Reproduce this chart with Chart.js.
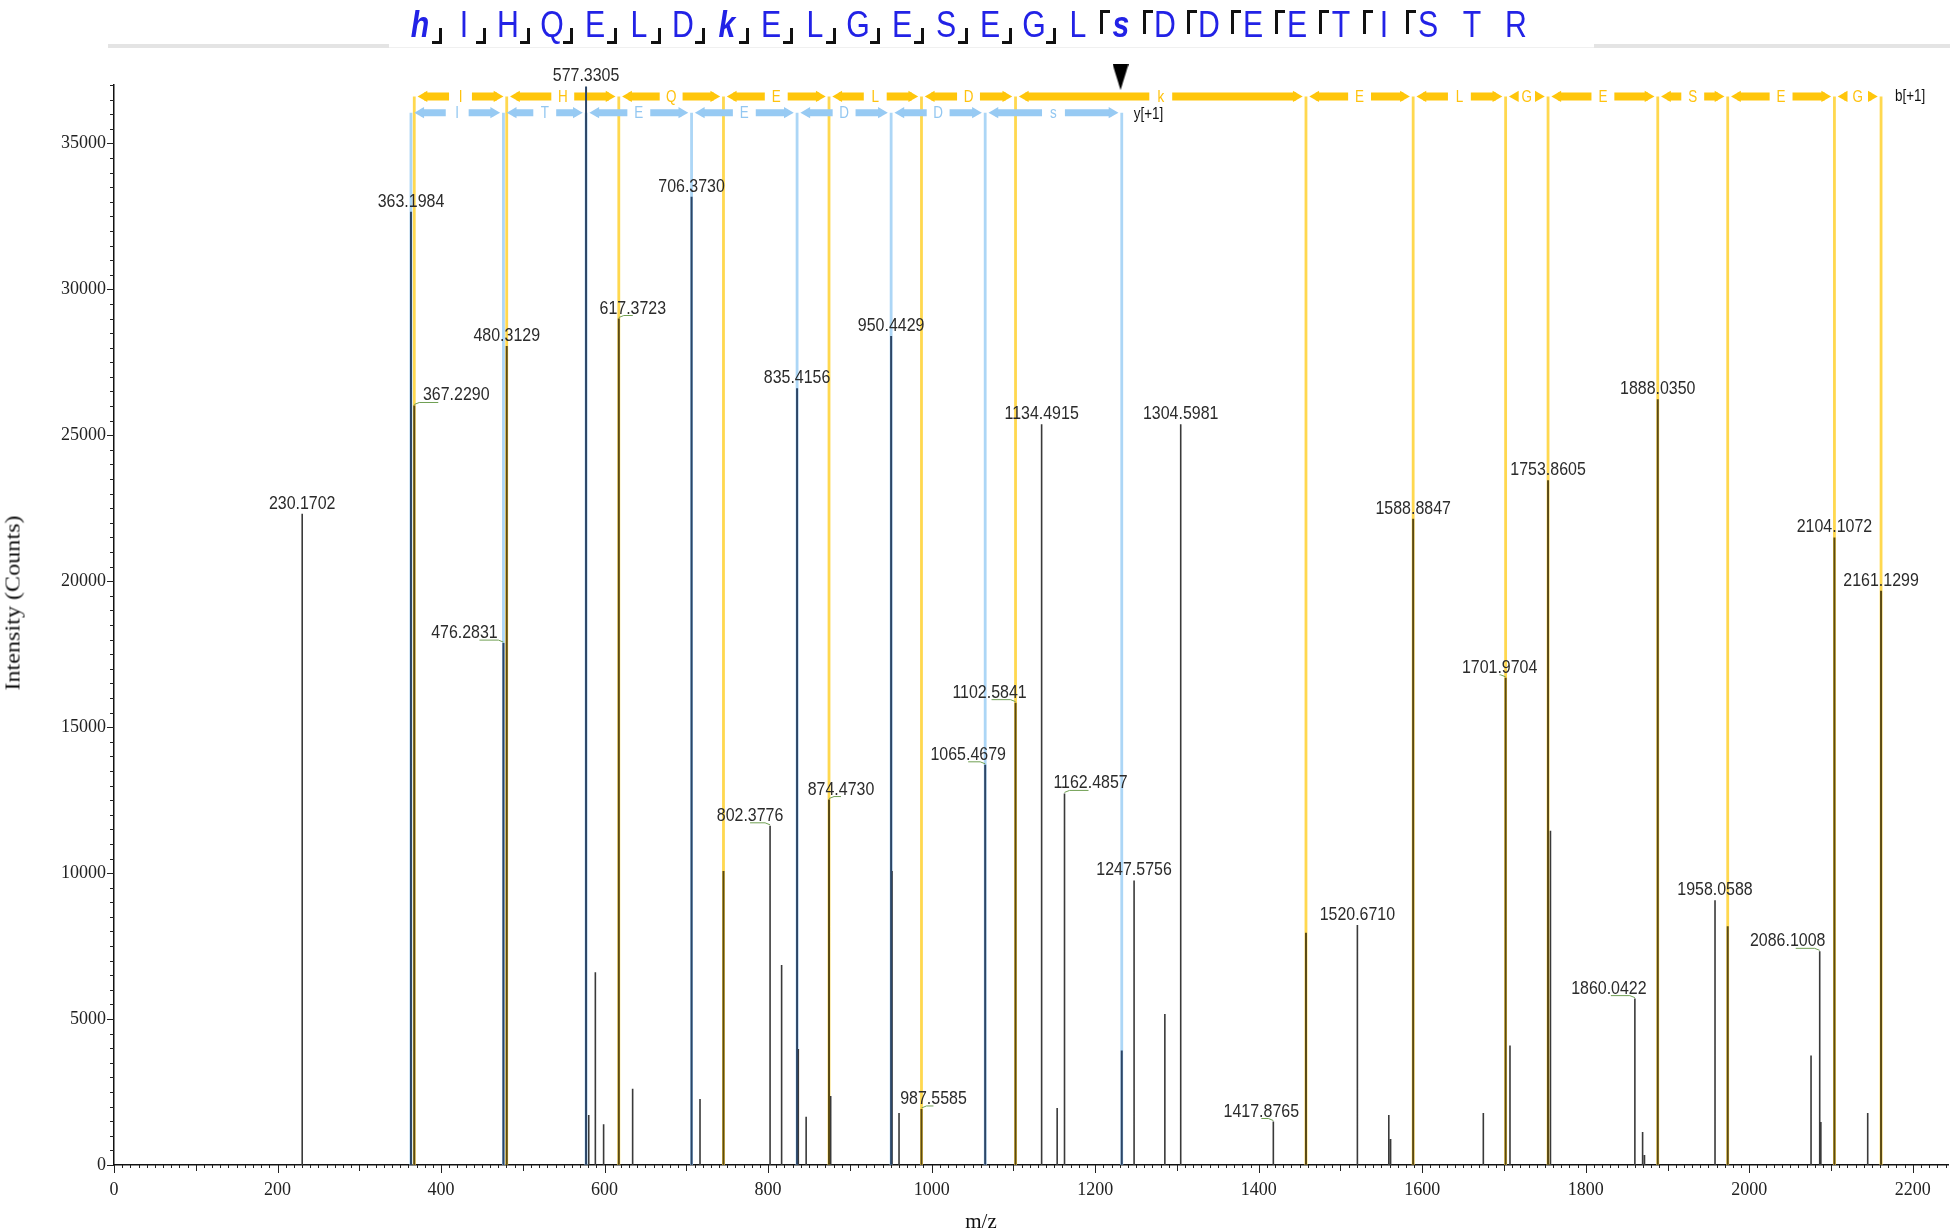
<!DOCTYPE html>
<html>
<head>
<meta charset="utf-8">
<script src="https://cdn.jsdelivr.net/npm/chart.js@4.4.1/dist/chart.umd.min.js"></script>
<style>
  html, body { margin: 0; padding: 0; background: #fff; }
  #wrap { position: relative; width: 1950px; height: 1231px; overflow: hidden; }
  #spectrum { position: absolute; left: 0; top: 0; }
  .seq { position: absolute; top: 7px; width: 40px; text-align: center; color: #2222e6;
         font: 36px/36px 'Liberation Sans', Arial, sans-serif; transform: scaleX(0.84); }
  .seq.mod { font-weight: bold; font-style: italic; }
  .brk-b { position: absolute; top: 28px; width: 10px; height: 16px; box-sizing: border-box;
           border-right: 3px solid #111; border-bottom: 3px solid #111; }
  .brk-y { position: absolute; top: 10px; width: 10px; height: 24px; box-sizing: border-box;
           border-left: 3px solid #111; border-top: 3px solid #111; }
  .rule { position: absolute; top: 44px; height: 4px; background: #e4e4e4; }
  .axis-title { position: absolute; font: 21px 'Liberation Serif', 'Times New Roman', serif; color: #111; white-space: nowrap; }
</style>
</head>
<body>
<div id="wrap">
  <canvas id="spectrum" width="1950" height="1231"></canvas>
  <div id="sequence"></div>
  <div class="rule" style="left:108px;width:281px"></div>
  <div class="rule" style="left:1594px;width:356px"></div>
  <div class="rule" style="left:389px;width:1205px;height:1px;top:47px;background:#f0f0f0"></div>
  <div class="axis-title" id="yTitle">Intensity (Counts)</div>
  <div class="axis-title" id="xTitle">m/z</div>
</div>
<script>
// Peaks (m/z, intensity in counts)
const mzValues = [
  230.1702, 363.1984, 367.2290, 476.2831, 480.3129, 577.3305, 580.6, 588.7, 598.8, 617.3723,
  634.3, 706.3730, 716.7, 745.4, 802.3776, 816.5, 835.4156, 836.9, 846.5, 874.4730,
  876.5, 950.4429, 951.5, 960.1, 987.5585, 1065.4679, 1102.5841, 1134.4915, 1153.5, 1162.4857,
  1232.5, 1247.5756, 1285.2, 1304.5981, 1417.8765, 1457.8, 1520.6710, 1559.1, 1561.3, 1588.8847,
  1674.7, 1701.9704, 1707.3, 1753.8605, 1756.8, 1860.0422, 1869.5, 1871.8, 1888.0350, 1958.0588,
  1973.6, 2075.5, 2086.1008, 2087.5, 2104.1072, 2144.8, 2161.1299
];
const intensities = [
  22310, 32660, 26020, 17880, 28060, 36950, 1710, 6600, 1400, 29000,
  2610, 33170, 2260, 10070, 11620, 6850, 26610, 3970, 1650, 12520,
  2360, 28400, 10070, 1780, 1920, 13710, 15840, 25380, 1950, 12730,
  3920, 9750, 5170, 25380, 1490, 7960, 8220, 1710, 890, 22140,
  1780, 16690, 4090, 23460, 11450, 5700, 1130, 340, 26230, 9070,
  8180, 3750, 7320, 1470, 21500, 1780, 19670
];
// Peaks carrying an m/z label
const labeledPeaks = [
  230.1702, 363.1984, 367.2290, 476.2831, 480.3129, 577.3305, 617.3723, 706.3730, 802.3776, 835.4156,
  874.4730, 950.4429, 987.5585, 1065.4679, 1102.5841, 1134.4915, 1162.4857, 1247.5756, 1304.5981, 1417.8765,
  1520.6710, 1588.8847, 1701.9704, 1753.8605, 1860.0422, 1888.0350, 1958.0588, 2086.1008, 2104.1072, 2161.1299
];
// Fragment ladders
const bIons = [367.2290, 480.3129, 617.3723, 745.4, 874.4730, 987.5585, 1102.5841, 1457.8, 1588.8847,
               1701.9704, 1753.8605, 1888.0350, 1973.6, 2104.1072, 2161.1299];
const bResidues = ['I', 'H', 'Q', 'E', 'L', 'D', 'k', 'E', 'L', 'G', 'E', 'S', 'E', 'G'];
const yIons = [363.1984, 476.2831, 577.3305, 706.3730, 835.4156, 950.4429, 1065.4679, 1232.5];
const yResidues = ['I', 'T', 'E', 'E', 'D', 'D', 's'];
const siteMarkerMz = 1231;

// Peptide sequence shown above the spectrum
const sequence = ['h','I','H','Q','E','L','D','k','E','L','G','E','S','E','G','L','s','D','D','E','E','T','I','S','T','R'];
const modifiedResidues = [0, 7, 16];
const bBreaks = [0, 1, 2, 3, 4, 5, 6, 7, 8, 9, 10, 11, 12, 13, 14];
const yBreaks = [16, 17, 18, 19, 20, 21, 22, 23];

const xTickLabels = [0, 200, 400, 600, 800, 1000, 1200, 1400, 1600, 1800, 2000, 2200];
const yTickLabels = [0, 5000, 10000, 15000, 20000, 25000, 30000, 35000];

// Layout / style settings
const X_MAX = 2243, Y_MAX = 37000;
const B_BAND = 36610, Y_BAND = 36050, MARKER_LEVEL = 37270;
const labelOffsetPx = {
  '367.2290': 42, '476.2831': -39, '617.3723': 14, '802.3776': -20, '874.4730': 12,
  '987.5585': 12, '1065.4679': -17, '1102.5841': -26, '1162.4857': 26, '1417.8765': -12,
  '1701.9704': -6, '1860.0422': -26, '2086.1008': -32
};
const SANS = "'Liberation Sans', Arial, sans-serif";
const SERIF = "'Liberation Serif', 'Times New Roman', serif";
const NARROW_X = 0.84;

// Build the sequence header
const seqBox = document.getElementById('sequence');
const seqCenter = i => 420 + i * 43.84;
sequence.forEach((aa, i) => {
  const d = document.createElement('div');
  d.className = 'seq' + (modifiedResidues.includes(i) ? ' mod' : '');
  d.style.left = (seqCenter(i) - 20) + 'px';
  d.textContent = aa;
  seqBox.appendChild(d);
});
bBreaks.forEach(i => {
  const d = document.createElement('div');
  d.className = 'brk-b';
  d.style.left = (seqCenter(i) + 21.9 - 10) + 'px';
  seqBox.appendChild(d);
});
yBreaks.forEach(i => {
  const d = document.createElement('div');
  d.className = 'brk-y';
  d.style.left = (seqCenter(i) - 21.9) + 'px';
  seqBox.appendChild(d);
});

const yTitle = document.getElementById('yTitle');
yTitle.style.left = '13px';
yTitle.style.top = '603px';
yTitle.style.transform = 'translate(-50%, -50%) rotate(-90deg) scaleX(1.15)';
const xTitle = document.getElementById('xTitle');
xTitle.style.left = '981px';
xTitle.style.top = '1221px';
xTitle.style.transform = 'translate(-50%, -50%)';

// Stick datasets
const near = (list, v) => list.some(m => Math.abs(m - v) < 0.01);
function sticks(filter) {
  const pts = [];
  mzValues.forEach((mz, i) => {
    if (!filter(mz)) return;
    pts.push({x: mz, y: 0}, {x: mz, y: intensities[i]}, {x: mz, y: null});
  });
  return pts;
}
function ionLines(ions, level) {
  const pts = [];
  ions.forEach(mz => pts.push({x: mz, y: level}, {x: mz, y: 0}, {x: mz, y: null}));
  return pts;
}
function band(ions, level) {
  const pts = [];
  for (let i = 0; i < ions.length - 1; i++) {
    const x0 = ions[i], x1 = ions[i + 1], mid = (x0 + x1) / 2;
    pts.push({x: x0 + 12, y: level, end: 'L'}, {x: mid - 14, y: level}, {x: mid, y: null},
             {x: mid + 14, y: level}, {x: x1 - 12, y: level, end: 'R'}, {x: x1, y: null});
  }
  return pts;
}

const markerImg = document.createElement('canvas');
markerImg.width = 16; markerImg.height = 26;
const mctx = markerImg.getContext('2d');
mctx.beginPath(); mctx.moveTo(0, 0); mctx.lineTo(16, 0); mctx.lineTo(8, 26); mctx.closePath();
mctx.fillStyle = '#000'; mctx.fill();

const lineBase = {showLine: true, spanGaps: false, pointRadius: 0, borderCapStyle: 'butt', clip: false};
const arrowPoints = {
  pointStyle: 'triangle',
  pointRadius: c => (c.raw && c.raw.end ? 6.5 : 0),
  pointRotation: c => (c.raw && c.raw.end === 'L' ? -90 : 90),
  pointBorderWidth: 0
};

function narrowText(ctx, text, x, y) {
  ctx.save();
  ctx.translate(x, y);
  ctx.scale(NARROW_X, 1);
  ctx.fillText(text, 0, 0);
  ctx.restore();
}

// Labels, band letters and minor ticks
const annotationPlugin = {
  id: 'annotations',
  afterDatasetsDraw(chart) {
    const {ctx, scales: {x, y}} = chart;
    ctx.save();
    ctx.font = '19px ' + SANS;
    ctx.textAlign = 'center';
    ctx.textBaseline = 'alphabetic';
    labeledPeaks.forEach(mz => {
      const i = mzValues.indexOf(mz);
      const px = x.getPixelForValue(mz), py = y.getPixelForValue(intensities[i]);
      const key = mz.toFixed(4);
      const dx = labelOffsetPx[key] || 0;
      ctx.fillStyle = '#2b2b2b';
      narrowText(ctx, key, px + dx, py - 5);
      if (dx) {
        ctx.strokeStyle = '#6f9f52';
        ctx.lineWidth = 1;
        ctx.beginPath();
        ctx.moveTo(px, py - 1);
        ctx.lineTo(px + Math.sign(dx) * 5, py - 3);
        ctx.lineTo(px + Math.sign(dx) * Math.min(Math.abs(dx), 24), py - 3);
        ctx.stroke();
      }
    });
    ctx.font = '16px ' + SANS;
    ctx.textBaseline = 'middle';
    const letters = (ions, res, level, color) => {
      ctx.fillStyle = color;
      res.forEach((r, i) => {
        const mid = (ions[i] + ions[i + 1]) / 2;
        narrowText(ctx, r, x.getPixelForValue(mid), y.getPixelForValue(level) + 1);
      });
    };
    letters(bIons, bResidues, B_BAND, '#ffc20e');
    letters(yIons, yResidues, Y_BAND, '#93c7f1');
    ctx.fillStyle = '#111';
    ctx.textAlign = 'left';
    narrowText(ctx, 'b[+1]', x.getPixelForValue(bIons[bIons.length - 1]) + 14, y.getPixelForValue(B_BAND));
    narrowText(ctx, 'y[+1]', x.getPixelForValue(yIons[yIons.length - 1]) + 12, y.getPixelForValue(Y_BAND) + 2);
    ctx.restore();
  },
  afterDraw(chart) {
    const {ctx, scales: {x, y}} = chart;
    ctx.save();
    ctx.strokeStyle = '#222';
    ctx.lineWidth = 1;
    const by = y.getPixelForValue(0);
    for (let v = 0; v <= X_MAX; v += 10) {
      const px = Math.round(x.getPixelForValue(v)) + 0.5;
      const len = v % 200 === 0 ? 8 : (v % 100 === 0 ? 6 : 3);
      ctx.beginPath(); ctx.moveTo(px, by); ctx.lineTo(px, by + len); ctx.stroke();
    }
    const lx = x.getPixelForValue(0);
    for (let v = 0; v <= Y_MAX; v += 500) {
      const py = Math.round(y.getPixelForValue(v)) + 0.5;
      const len = v % 5000 === 0 ? 7 : 4;
      ctx.beginPath(); ctx.moveTo(lx, py); ctx.lineTo(lx - len, py); ctx.stroke();
    }
    ctx.restore();
  }
};

new Chart(document.getElementById('spectrum'), {
  type: 'scatter',
  data: {
    datasets: [
      Object.assign({}, lineBase, {data: sticks(mz => !near(bIons, mz) && !near(yIons, mz)), borderColor: '#3a3a3a', borderWidth: 1.6, order: 1}),
      Object.assign({}, lineBase, {data: sticks(mz => near(bIons, mz)), borderColor: '#5b4a14', borderWidth: 2, order: 0}),
      Object.assign({}, lineBase, {data: sticks(mz => near(yIons, mz)), borderColor: '#2c4566', borderWidth: 2, order: 0}),
      Object.assign({}, lineBase, {data: ionLines(bIons, B_BAND), borderColor: '#ffd84f', borderWidth: 2.8, order: 5}),
      Object.assign({}, lineBase, {data: ionLines(yIons, Y_BAND), borderColor: '#acd6f6', borderWidth: 2.8, order: 6}),
      Object.assign({}, lineBase, arrowPoints, {data: band(bIons, B_BAND), borderColor: '#ffc60b', backgroundColor: '#ffc60b', borderWidth: 8, order: 3}),
      Object.assign({}, lineBase, arrowPoints, {data: band(yIons, Y_BAND), borderColor: '#97caf3', backgroundColor: '#97caf3', borderWidth: 7, order: 4}),
      {data: [{x: siteMarkerMz, y: MARKER_LEVEL}], showLine: false, pointStyle: markerImg, pointRadius: 10, clip: false, order: 2}
    ]
  },
  options: {
    responsive: false,
    animation: false,
    devicePixelRatio: 1,
    events: [],
    layout: {autoPadding: false, padding: {left: 0, top: 85, right: 2, bottom: 0}},
    plugins: {legend: {display: false}, tooltip: {enabled: false}},
    scales: {
      x: {
        type: 'linear', min: 0, max: X_MAX,
        afterFit: s => { s.height = 66; s.paddingLeft = 0; s.paddingRight = 0; },
        afterBuildTicks: s => { s.ticks = xTickLabels.map(v => ({value: v})); },
        border: {display: true, color: '#111', width: 1.5},
        grid: {display: false, drawTicks: false},
        ticks: {
          padding: 14, maxRotation: 0, autoSkip: false,
          color: '#222', font: {family: SERIF, size: 18},
          callback: v => String(v)
        }
      },
      y: {
        type: 'linear', min: 0, max: Y_MAX,
        afterFit: s => { s.width = 114; s.paddingTop = 0; s.paddingBottom = 0; },
        afterBuildTicks: s => { s.ticks = yTickLabels.map(v => ({value: v})); },
        border: {display: true, color: '#111', width: 1.5},
        grid: {display: false, drawTicks: false},
        ticks: {
          padding: 8, autoSkip: false,
          color: '#222', font: {family: SERIF, size: 18},
          callback: v => String(v)
        }
      }
    }
  },
  plugins: [annotationPlugin]
});
</script>
</body>
</html>
